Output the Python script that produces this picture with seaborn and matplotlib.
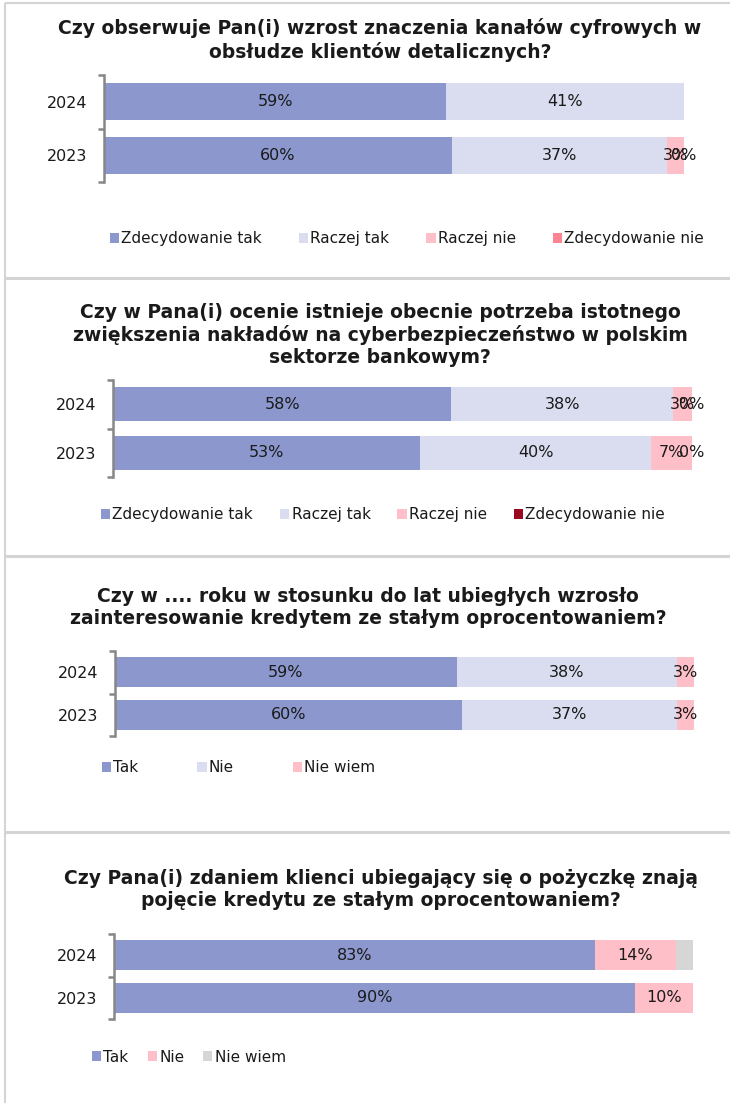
import numpy as np
import pandas as pd
import matplotlib
matplotlib.use("Agg")
import matplotlib.pyplot as plt
from matplotlib.patches import Rectangle, Patch
import seaborn as sns

sns.set_theme(style="white")
plt.rcParams["font.family"] = ["DejaVu Sans"]

# ---------------- data ----------------
years = ["2024", "2023"]

q1_title = "Czy obserwuje Pan(i) wzrost znaczenia kanałów cyfrowych w\nobsłudze klientów detalicznych?"
q1_series = ["Zdecydowanie tak", "Raczej tak", "Raczej nie", "Zdecydowanie nie"]
q1_zdecydowanie_tak = [59, 60]
q1_raczej_tak = [41, 37]
q1_raczej_nie = [np.nan, 3]
q1_zdecydowanie_nie = [np.nan, 0]

q2_title = ("Czy w Pana(i) ocenie istnieje obecnie potrzeba istotnego\n"
            "zwiększenia nakładów na cyberbezpieczeństwo w polskim\nsektorze bankowym?")
q2_series = ["Zdecydowanie tak", "Raczej tak", "Raczej nie", "Zdecydowanie nie"]
q2_zdecydowanie_tak = [58.4, 53]
q2_raczej_tak = [38.4, 40]
q2_raczej_nie = [3.2, 7]
q2_zdecydowanie_nie = [0, 0]

q3_title = ("Czy w .... roku w stosunku do lat ubiegłych wzrosło\n"
            "zainteresowanie kredytem ze stałym oprocentowaniem?")
q3_series = ["Tak", "Nie", "Nie wiem"]
q3_tak = [59, 60]
q3_nie = [38, 37]
q3_nie_wiem = [3, 3]

q4_title = ("Czy Pana(i) zdaniem klienci ubiegający się o pożyczkę znają\n"
            "pojęcie kredytu ze stałym oprocentowaniem?")
q4_series = ["Tak", "Nie", "Nie wiem"]
q4_tak = [83, 90]
q4_nie = [14, 10]
q4_nie_wiem = [3, 0]

# ---------------- styling ----------------
BLUE = "#8B97CD"
LIGHT = "#D9DDEF"
PINK = "#FFBFC8"
SALMON = "#FF8391"
DARKRED = "#9A0A1E"
GREY = "#D6D6D6"
SPINE = "#878787"
TEXT = "#1A1A1A"
BORDER = "#D4D4D4"

W, H = 730, 1103
fig = plt.figure(figsize=(W / 100, H / 100), dpi=100)

# background layer in pixel coordinates for the panel frames
bg = fig.add_axes([0, 0, 1, 1], zorder=-5)
bg.set_xlim(0, W)
bg.set_ylim(H, 0)
bg.axis("off")
for top, bottom in [(3, 278), (279, 556), (557, 832), (833, 1110)]:
    bg.add_patch(Rectangle((5, top), 760, bottom - top, fill=False,
                           edgecolor=BORDER, linewidth=1.5))

panels = [
    dict(title=q1_title, series=q1_series,
         values=[q1_zdecydowanie_tak, q1_raczej_tak, q1_raczej_nie, q1_zdecydowanie_nie],
         colors=[BLUE, LIGHT, PINK, SALMON], labelled=[True, True, True, True],
         box=(104, 684, 75, 182), title_xy=(380, 40),
         legend_xy=(110, 239), colspacing=37),
    dict(title=q2_title, series=q2_series,
         values=[q2_zdecydowanie_tak, q2_raczej_tak, q2_raczej_nie, q2_zdecydowanie_nie],
         colors=[BLUE, LIGHT, PINK, DARKRED], labelled=[True, True, True, True],
         box=(113, 692, 380, 477), title_xy=(380, 335),
         legend_xy=(101, 515), colspacing=27),
    dict(title=q3_title, series=q3_series,
         values=[q3_tak, q3_nie, q3_nie_wiem],
         colors=[BLUE, LIGHT, PINK], labelled=[True, True, True],
         box=(115, 694, 651, 736), title_xy=(368, 607),
         legend_xy=(102, 768), colspacing=59),
    dict(title=q4_title, series=q4_series,
         values=[q4_tak, q4_nie, q4_nie_wiem],
         colors=[BLUE, PINK, GREY], labelled=[True, True, False],
         box=(114, 693, 934, 1019), title_xy=(381, 889),
         legend_xy=(92, 1057), colspacing=19),
]

for p in panels:
    x0, x1, y0, y1 = p["box"]
    ax = fig.add_axes([x0 / W, 1 - y1 / H, (x1 - x0) / W, (y1 - y0) / H])

    vals = np.array(p["values"], dtype=float)          # series x years
    cum = np.cumsum(np.nan_to_num(vals), axis=0)

    # stacked bars: draw cumulative totals from the outermost segment inwards
    for i in range(len(p["series"]) - 1, -1, -1):
        df = pd.DataFrame({"year": years, "value": cum[i]})
        sns.barplot(data=df, x="value", y="year", order=years, orient="h",
                    color=p["colors"][i], saturation=1, width=0.7,
                    linewidth=0, ax=ax)

    # value labels centred on each segment
    for i in range(len(p["series"])):
        if not p["labelled"][i]:
            continue
        for j in range(len(years)):
            v = vals[i, j]
            if np.isnan(v):
                continue
            centre = cum[i, j] - np.nan_to_num(v) / 2
            ax.text(centre, j, f"{v:.0f}%", ha="center", va="center",
                    fontsize=11.5, color=TEXT)

    ax.set_xlim(0, 100)
    ax.set_ylim(1.5, -0.5)
    ax.set_xlabel("")
    ax.set_ylabel("")
    ax.set_xticks([])
    ax.set_facecolor("none")
    for s in ["top", "right", "bottom"]:
        ax.spines[s].set_visible(False)
    ax.spines["left"].set_color(SPINE)
    ax.spines["left"].set_linewidth(1.8)
    ax.set_yticks([-0.5, 0.5, 1.5], minor=True)
    ax.tick_params(axis="y", which="minor", left=True, length=4, width=1.8,
                   color=SPINE, direction="out")
    ax.tick_params(axis="y", which="major", left=True, length=0, pad=12,
                   labelsize=11.5, labelcolor=TEXT)

    # question title
    tx, ty = p["title_xy"]
    fig.text(tx / W, 1 - ty / H, p["title"], ha="center", va="center",
             fontsize=13.5, fontweight="bold", color=TEXT, linespacing=1.2)

    # legend along the bottom of the panel
    handles = [Patch(facecolor=c, edgecolor="none") for c in p["colors"]]
    lx, ly = p["legend_xy"]
    fig.legend(handles, p["series"], loc="center left",
               bbox_to_anchor=(lx / W, 1 - ly / H), ncol=len(handles),
               frameon=False, fontsize=11, handlelength=0.6, handleheight=0.6,
               handletextpad=0.15, borderpad=0, borderaxespad=0,
               columnspacing=p["colspacing"] / 15.3, labelcolor=TEXT)

fig.savefig("out.png", dpi=100, facecolor="white")
